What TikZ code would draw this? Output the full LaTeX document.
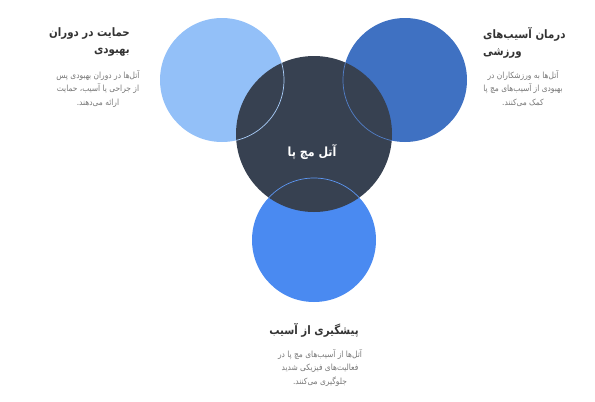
\documentclass[tikz,border=0pt]{standalone}
\usepackage{fontspec}
\newfontfamily\arabicfont[Script=Arabic, FakeStretch=0.88]{DejaVu Sans}
\TeXXeTstate=1
\usetikzlibrary{positioning}
\definecolor{lightblue}{HTML}{93C0F8}
\definecolor{midblue}{HTML}{3F71C2}
\definecolor{brightblue}{HTML}{4A8AF1}
\definecolor{slate}{HTML}{374151}
\definecolor{titlegray}{HTML}{333333}
\definecolor{descgray}{HTML}{777777}
\newcommand{\fatext}[1]{\beginR #1\endR}

\begin{document}
\begin{tikzpicture}[x=1pt, y=-1pt,
  bubble/.style = {circle, inner sep=0pt, minimum size=124pt},
  title/.style = {inner sep=0pt, text=titlegray,
    font=\arabicfont\bfseries\fontsize{11.6}{17.5}\selectfont},
  desc/.style = {inner sep=0pt, text=descgray, align=center,
    font=\arabicfont\fontsize{8.5}{13.5}\selectfont}]
\useasboundingbox (0,0) rectangle (595,402);

% outer circles first
\node[bubble, fill=lightblue] (L) at (222,80) {};
\node[bubble, fill=midblue] (R) at (405,80) {};
\node[bubble, fill=brightblue] (B) at (314,240) {};
% middle circle on top
\node[circle, fill=slate, inner sep=0pt, minimum size=156pt] (M) at (314,134) {};
\node[text=white, font=\arabicfont\bfseries\fontsize{12.6}{14}\selectfont] (Mt) at (312,152) {\fatext{آتل مچ پا}};

% the outlines that show across the middle circle
\begin{scope}
\clip (M.center) circle (78pt);
\draw[lightblue!80!white, line width=0.7pt] (L.center) circle (62pt);
\draw[midblue!90!white, line width=0.7pt] (R.center) circle (62pt);
\draw[brightblue!90!white, line width=0.7pt] (B.center) circle (62pt);
\end{scope}

% left block
\node[title, align=right, anchor=north east] (Lt) at (130,27)
  {\fatext{حمایت در دوران}\\\fatext{بهبودی}};
\node[desc, anchor=north] (Ld) at (98,70)
  {\fatext{آتل‌ها در دوران بهبودی پس}\\\fatext{از جراحی یا آسیب، حمایت}\\\fatext{ارائه می‌دهند.}};

% right block
\node[title, align=left, anchor=north west] (Rt) at (483,27)
  {\fatext{درمان آسیب‌های}\\\fatext{ورزشی}};
\node[desc, anchor=north] (Rd) at (523,70)
  {\fatext{آتل‌ها به ورزشکاران در}\\\fatext{بهبودی از آسیب‌های مچ پا}\\\fatext{کمک می‌کنند.}};

% bottom block
\node[title, anchor=north, below=21pt of B] (Bt) {\fatext{پیشگیری از آسیب}};
\node[desc, anchor=north] (Bd) at (320,349)
  {\fatext{آتل‌ها از آسیب‌های مچ پا در}\\\fatext{فعالیت‌های فیزیکی شدید}\\\fatext{جلوگیری می‌کنند.}};
\end{tikzpicture}
\end{document}
